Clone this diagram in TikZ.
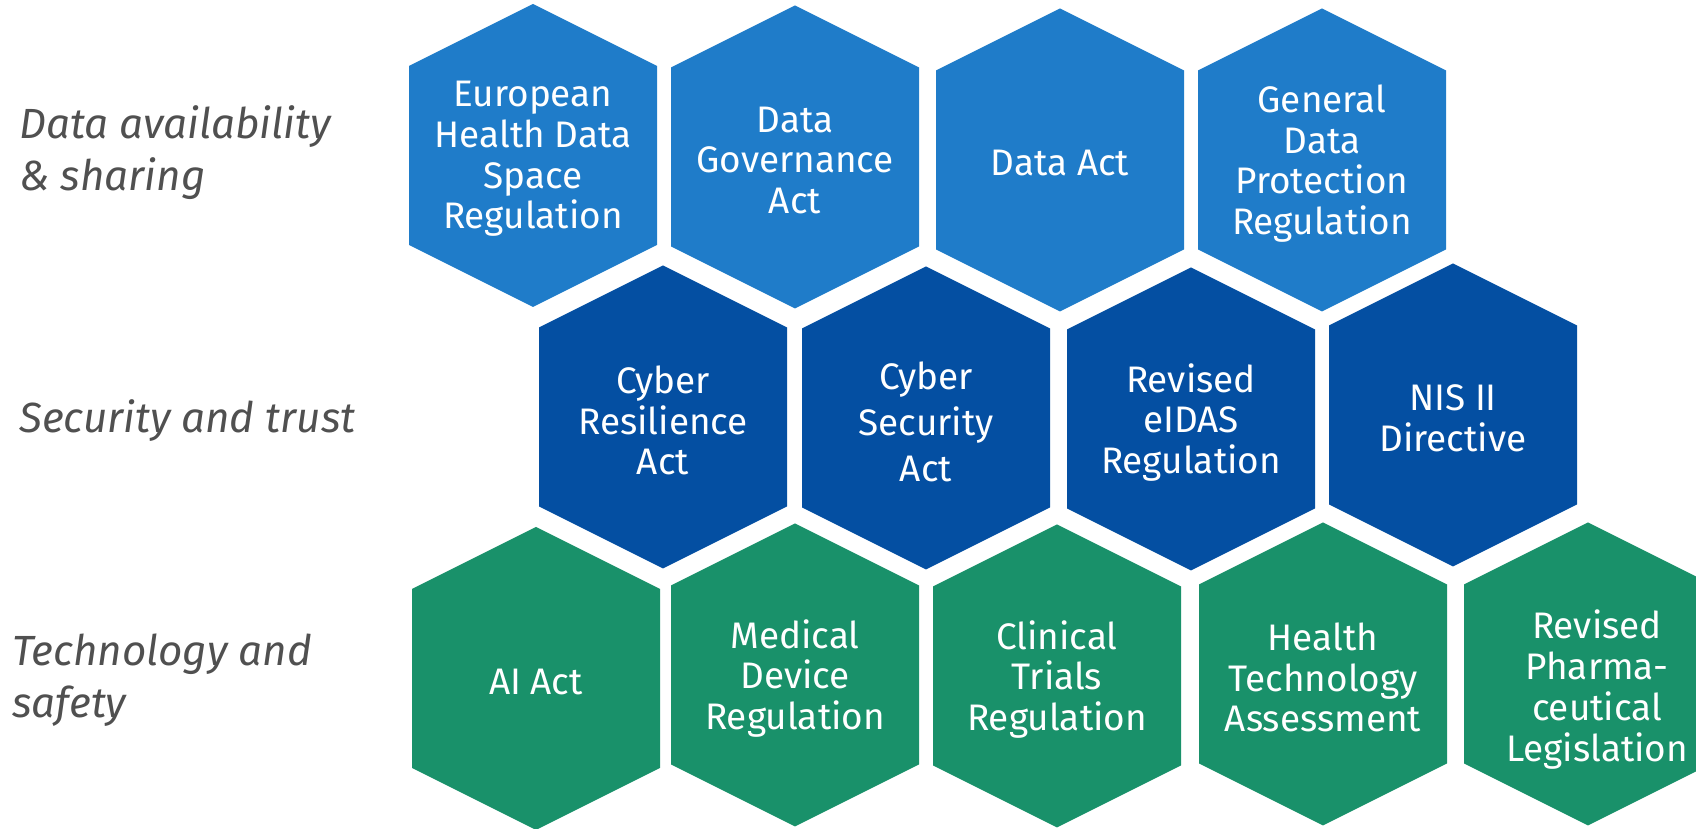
\documentclass[tikz,border=0pt]{standalone}
\usepackage{fontspec}
\setmainfont{Fira Sans}

\definecolor{datablue}{HTML}{1F7CC9}
\definecolor{trustblue}{HTML}{044FA2}
\definecolor{safegreen}{HTML}{19916A}
\definecolor{labelgrey}{HTML}{505050}

\tikzset{
    hextext/.style={text=white, align=center, yshift=-1pt, font=\fontsize{10.5}{11.6}\selectfont},
    rowlabel/.style={text=labelgrey, align=left, anchor=west, font=\fontsize{12}{14.8}\selectfont\itshape}
}

% hexagon cell: name, centre, colour, text
\newcommand{\hexcell}[4]{%
    \fill[#3, shift={(#2)}] (0,1.515) -- (1.24,0.895) -- (1.24,-0.895) -- (0,-1.515)
        -- (-1.24,-0.895) -- (-1.24,0.895) -- cycle;
    \node[hextext] (#1) at (#2) {#4};
}

\begin{document}
\begin{tikzpicture}
        \useasboundingbox (0,0) rectangle (16.96,8.29);
        \clip (0,0) rectangle (16.96,8.29);

        % Row labels
        \node[rowlabel] (lblData) at (0.07,6.76) {Data availability\\\& sharing};
        \node[rowlabel] (lblTrust) at (0.07,4.08) {Security and trust};
        \node[rowlabel] (lblTech) at (0.0,1.485) {Technology and\\safety};

        % Data availability & sharing
        \hexcell{ehds}{5.33,6.735}{datablue}{European\\Health Data\\Space\\Regulation}
        \hexcell{dga}{7.95,6.72}{datablue}{Data\\Governance\\Act}
        \hexcell{dataact}{10.60,6.69}{datablue}{Data Act}
        \hexcell{gdpr}{13.22,6.69}{datablue}{General\\Data\\Protection\\Regulation}

        % Security and trust
        \hexcell{cra}{6.63,4.12}{trustblue}{Cyber\\Resilience\\Act}
        \hexcell{csa}{9.26,4.11}{trustblue}{Cyber\\[1.5pt]Security\\[1.5pt]Act}
        \hexcell{eidas}{11.91,4.10}{trustblue}{Revised\\eIDAS\\Regulation}
        \hexcell{nis}{14.53,4.14}{trustblue}{NIS II\\Directive}

        % Technology and safety
        \hexcell{aiact}{5.36,1.505}{safegreen}{AI Act}
        \hexcell{mdr}{7.95,1.54}{safegreen}{Medical\\Device\\Regulation}
        \hexcell{ctr}{10.57,1.53}{safegreen}{Clinical\\Trials\\Regulation}
        \hexcell{hta}{13.23,1.55}{safegreen}{Health\\Technology\\Assessment}
        \fill[safegreen, shift={(15.88,1.55)}] (0,1.515) -- (1.24,0.895) -- (1.24,-0.895) -- (0,-1.515)
            -- (-1.24,-0.895) -- (-1.24,0.895) -- cycle;
        \node[hextext] (pharma) at (15.97,1.43) {Revised\\Pharma-\\ceutical\\Legislation};
\end{tikzpicture}
\end{document}
